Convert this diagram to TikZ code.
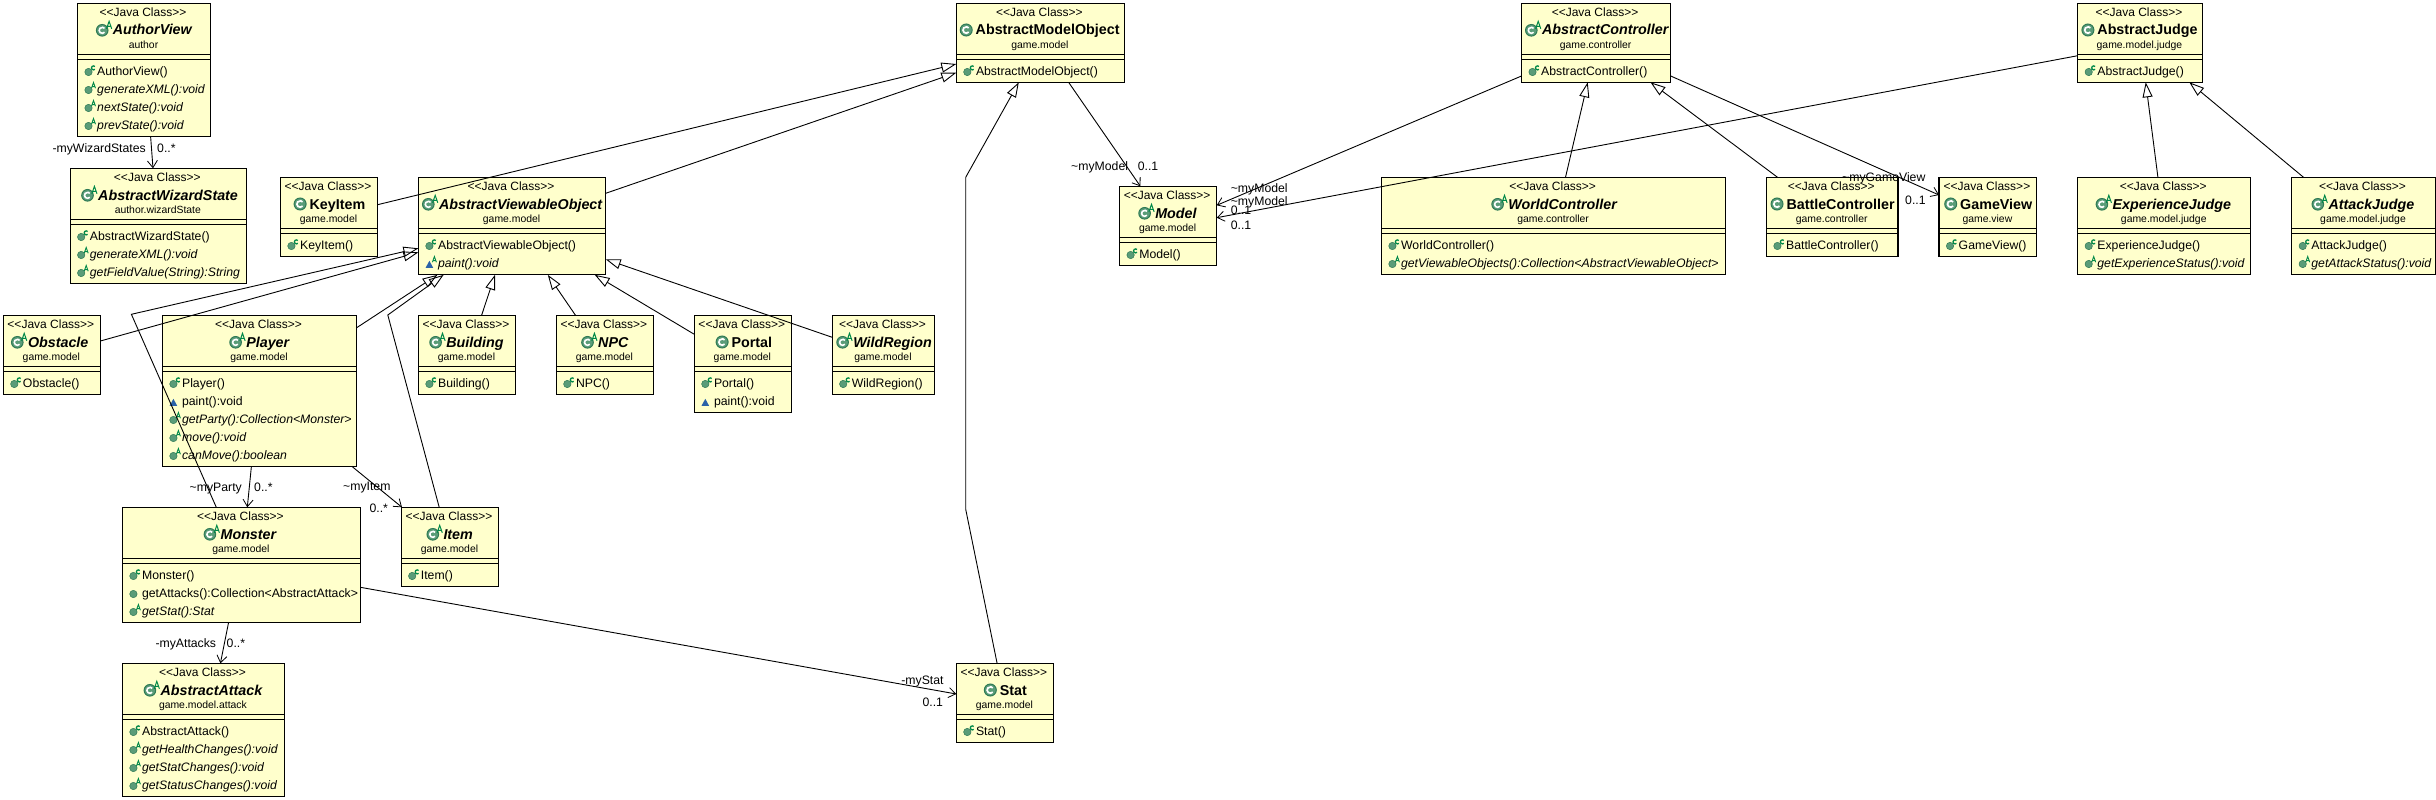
\documentclass[tikz,border=0pt]{standalone}
\usepackage{fontspec}
\setmainfont[Ligatures=NoCommon]{Liberation Sans}
\usetikzlibrary{arrows.meta}
\definecolor{boxfill}{HTML}{FFFFCC}
\definecolor{icongreen}{HTML}{5A9C78}
\definecolor{icondark}{HTML}{2F7A55}
\definecolor{markgreen}{HTML}{008848}
\definecolor{triblue}{HTML}{2B62A8}
\tikzset{
  x=1pt,y=-1pt,
  clsbox/.style={draw=black,fill=boxfill,line width=1.3pt,inner sep=0pt,outer sep=0pt,anchor=north west},
  sepline/.style={draw=black,line width=1.2pt},
  stereo/.style={inner sep=0pt,anchor=base,font=\fontsize{12}{14}\selectfont},
  titletext/.style={inner sep=0pt,anchor=base west,font=\fontsize{14.3}{16}\selectfont},
  pkgtext/.style={inner sep=0pt,anchor=base,font=\fontsize{10.4}{12}\selectfont},
  member/.style={inner sep=0pt,anchor=base west,font=\fontsize{12.25}{14}\selectfont},
  rolee/.style={inner sep=0pt,anchor=base east,font=\fontsize{12.25}{14}\selectfont},
  rolew/.style={inner sep=0pt,anchor=base west,font=\fontsize{12.25}{14}\selectfont},
  genarrow/.style={draw=black,line width=.9pt,-{Triangle[open,length=15pt,width=10pt]}},
  navarrow/.style={draw=black,line width=.9pt,-{Straight Barb[length=7pt,width=10pt,line width=.8pt]}},
}
\def\abskind{a}
% name x y w h titleoffset kind title package
\newcommand\cls[9]{%
  \node[clsbox,minimum width=#4pt,minimum height=#5pt] (#1) at (#2,#3) {};
  \node[stereo] (#1-s) at ([shift={(#4/2-1,13.4)}]#1.north west) {<{}<Java Class>{}>};
  \def\kindtmp{#7}%
  \ifx\kindtmp\abskind
    \node[titletext] (#1-t) at ([shift={(#6,31.7)}]#1.north west) {\bfseries\itshape #8};
    \begin{scope}[shift={(#1.north west)}]
      \fill[icongreen,draw=icondark,line width=1pt] (#6-10.5,27) circle[radius=5.8];
      \draw[white,line width=1.6pt] (#6-10.5,27) ++(40:3) arc[start angle=40,end angle=320,radius=3];
      \draw[markgreen,line width=1pt] (#6-6.2,25.5) -- (#6-3.6,18) -- (#6-1,25.5) (#6-5.2,23) -- (#6-2,23);
    \end{scope}
  \else
    \node[titletext] (#1-t) at ([shift={(#6,31.7)}]#1.north west) {\bfseries #8};
    \begin{scope}[shift={(#1.north west)}]
      \fill[icongreen,draw=icondark,line width=1pt] (#6-9.3,26.7) circle[radius=6];
      \draw[white,line width=1.7pt] (#6-9.3,26.7) ++(40:3.2) arc[start angle=40,end angle=320,radius=3.2];
    \end{scope}
  \fi
  \node[pkgtext] (#1-p) at ([shift={(#4/2-.5,45.4)}]#1.north west) {#9};
  \draw[sepline] ([yshift=-51pt]#1.north west) -- ([yshift=-51pt]#1.north east);
  \draw[sepline] ([yshift=-56pt]#1.north west) -- ([yshift=-56pt]#1.north east);
}
% member helpers: name, row (0-based), text
\newcommand\mcircle[2]{\begin{scope}[shift={(#1.north west)}]\pgfmathsetmacro\my{68.7+18*#2}\fill[icongreen,draw=icondark,line width=.5pt] (11,\my) circle[radius=3.7];\end{scope}}
\newcommand\mmarkc[2]{\begin{scope}[shift={(#1.north west)}]\pgfmathsetmacro\my{68.7+18*#2}\draw[markgreen,line width=1.3pt] (16,\my-4.1) ++(45:2) arc[start angle=45,end angle=315,radius=2];\end{scope}}
\newcommand\mmarka[2]{\begin{scope}[shift={(#1.north west)}]\pgfmathsetmacro\my{68.7+18*#2}\draw[markgreen,line width=.9pt] (14,\my-1.8) -- (16,\my-7.5) -- (18,\my-1.8) (14.8,\my-3.4) -- (17.2,\my-3.4);\end{scope}}
\newcommand\mtri[2]{\begin{scope}[shift={(#1.north west)}]\pgfmathsetmacro\my{68.7+18*#2}\fill[triblue] (7.2,\my+3.8) -- (14.8,\my+3.8) -- (11,\my-3.2) -- cycle;\end{scope}}
\newcommand\mtext[4]{\node[member] (#1-m#2) at ([shift={(19.5,72+18*#2)}]#1.north west) {#4#3};}
\newcommand\memc[3]{\mcircle{#1}{#2}\mmarkc{#1}{#2}\mtext{#1}{#2}{#3}{}}
\newcommand\mema[3]{\mcircle{#1}{#2}\mmarka{#1}{#2}\mtext{#1}{#2}{#3}{\itshape}}
\newcommand\memp[3]{\mcircle{#1}{#2}\mtext{#1}{#2}{#3}{}}
\newcommand\memt[3]{\mtri{#1}{#2}\mtext{#1}{#2}{#3}{}}
\newcommand\memta[3]{\mtri{#1}{#2}\mmarka{#1}{#2}\mtext{#1}{#2}{#3}{\itshape}}
\begin{document}
\begin{tikzpicture}
\useasboundingbox (0,0) rectangle (2436,800);
\fill[white] (0,0) rectangle (2436,800);
% classes
\cls{av}{77.5}{3.3}{133}{133}{35.2}{a}{AuthorView}{author}
\memc{av}{0}{AuthorView()}\mema{av}{1}{generateXML():void}\mema{av}{2}{nextState():void}\mema{av}{3}{prevState():void}
\cls{aws}{70.2}{168.3}{176.3}{115}{27.8}{a}{AbstractWizardState}{author.wizardState}
\memc{aws}{0}{AbstractWizardState()}\mema{aws}{1}{generateXML():void}\mema{aws}{2}{getFieldValue(String):String}
\cls{ki}{280.4}{177.3}{97.2}{79}{29}{c}{KeyItem}{game.model}
\memc{ki}{0}{KeyItem()}
\cls{avo}{418.4}{177.3}{187.3}{97}{20.4}{a}{AbstractViewableObject}{game.model}
\memc{avo}{0}{AbstractViewableObject()}\memta{avo}{1}{paint():void}
\cls{obs}{3.3}{315.3}{97.1}{79}{24.5}{a}{Obstacle}{game.model}
\memc{obs}{0}{Obstacle()}
\cls{pl}{162.4}{315.3}{194.3}{151}{83.7}{a}{Player}{game.model}
\memc{pl}{0}{Player()}\memt{pl}{1}{paint():void}\mema{pl}{2}{getParty():Collection<Monster>}\mema{pl}{3}{move():void}\mema{pl}{4}{canMove():boolean}
\cls{bld}{418.4}{315.3}{97.1}{79}{27.7}{a}{Building}{game.model}
\memc{bld}{0}{Building()}
\cls{npc}{556.3}{315.3}{97.2}{79}{41.7}{a}{NPC}{game.model}
\memc{npc}{0}{NPC()}
\cls{por}{694.3}{315.3}{97.1}{97}{37.1}{c}{Portal}{game.model}
\memc{por}{0}{Portal()}\memt{por}{1}{paint():void}
\cls{wr}{832.2}{315.3}{102.5}{79}{20.9}{a}{WildRegion}{game.model}
\memc{wr}{0}{WildRegion()}
\cls{mon}{122.4}{507.3}{238}{115}{98}{a}{Monster}{game.model}
\memc{mon}{0}{Monster()}\memp{mon}{1}{getAttacks():Collection<AbstractAttack>}\mema{mon}{2}{getStat():Stat}
\cls{itm}{401.2}{507.3}{97.6}{79}{42.1}{a}{Item}{game.model}
\memc{itm}{0}{Item()}
\cls{aa}{122.4}{663.3}{162.1}{133}{38}{a}{AbstractAttack}{game.model.attack}
\memc{aa}{0}{AbstractAttack()}\mema{aa}{1}{getHealthChanges():void}\mema{aa}{2}{getStatChanges():void}\mema{aa}{3}{getStatusChanges():void}
\cls{amo}{956.3}{3.3}{168.2}{79}{19.2}{c}{AbstractModelObject}{game.model}
\memc{amo}{0}{AbstractModelObject()}
\cls{mdl}{1119.6}{186.3}{97.1}{79}{35.5}{a}{Model}{game.model}
\memc{mdl}{0}{Model()}
\cls{st}{956.3}{663.3}{97.2}{79}{43.3}{c}{Stat}{game.model}
\memc{st}{0}{Stat()}
\cls{ac}{1521.5}{3.3}{149.2}{79}{20.3}{a}{AbstractController}{game.controller}
\memc{ac}{0}{AbstractController()}
\cls{wc}{1381.4}{177.3}{344.4}{97}{126.7}{a}{WorldController}{game.controller}
\memc{wc}{0}{WorldController()}\mema{wc}{1}{getViewableObjects():Collection<AbstractViewableObject>}
\cls{bc}{1766.4}{177.3}{131.6}{79}{19.9}{c}{BattleController}{game.controller}
\memc{bc}{0}{BattleController()}
\cls{gv}{1939}{177.3}{97.8}{79}{21}{c}{GameView}{game.view}
\memc{gv}{0}{GameView()}
\cls{aj}{2077.7}{3.3}{124.5}{79}{19.5}{c}{AbstractJudge}{game.model.judge}
\memc{aj}{0}{AbstractJudge()}
\cls{ej}{2077.7}{177.3}{173.1}{97}{34.7}{a}{ExperienceJudge}{game.model.judge}
\memc{ej}{0}{ExperienceJudge()}\mema{ej}{1}{getExperienceStatus():void}
\cls{atj}{2291.7}{177.3}{143.6}{97}{36.6}{a}{AttackJudge}{game.model.judge}
\memc{atj}{0}{AttackJudge()}\mema{atj}{1}{getAttackStatus():void}
% bend points
\coordinate (bendmon) at (131.4,314.3);
\coordinate (benditm) at (387.8,315);
\coordinate (bendst1) at (965.7,509.3);
\coordinate (bendst2) at (965.7,177.3);
% generalisations
\draw[genarrow] ([shift={(97.2,27.4)}]ki.north west) -- ([shift={(0,60.7)}]amo.north west);
\draw[genarrow] ([shift={(187.3,16)}]avo.north west) -- ([shift={(0,69.4)}]amo.north west);
\draw[genarrow] ([shift={(97.1,25.7)}]obs.north west) -- ([shift={(0,75)}]avo.north west);
\draw[genarrow] ([shift={(93.9,0)}]mon.north west) -- (bendmon) -- ([shift={(0,71)}]avo.north west);
\draw[genarrow] ([shift={(194.3,12.4)}]pl.north west) -- ([shift={(19.1,97.5)}]avo.north west);
\draw[genarrow] ([shift={(38,0)}]itm.north west) -- (benditm) -- ([shift={(25.3,97.5)}]avo.north west);
\draw[genarrow] ([shift={(63.2,0)}]bld.north west) -- ([shift={(76.6,97.5)}]avo.north west);
\draw[genarrow] ([shift={(19.2,0)}]npc.north west) -- ([shift={(129.4,97.5)}]avo.north west);
\draw[genarrow] ([shift={(0,19)}]por.north west) -- ([shift={(176.3,97.5)}]avo.north west);
\draw[genarrow] ([shift={(0,22)}]wr.north west) -- ([shift={(187.3,82)}]avo.north west);
\draw[genarrow] ([shift={(40.8,0)}]st.north west) -- (bendst1) -- (bendst2) -- ([shift={(62.5,79)}]amo.north west);
\draw[genarrow] ([shift={(184.1,0)}]wc.north west) -- ([shift={(66.2,79)}]ac.north west);
\draw[genarrow] ([shift={(11.1,0)}]bc.north west) -- ([shift={(129,79)}]ac.north west);
\draw[genarrow] ([shift={(80.2,0)}]ej.north west) -- ([shift={(68,79)}]aj.north west);
\draw[genarrow] ([shift={(11.8,0)}]atj.north west) -- ([shift={(111.6,79)}]aj.north west);
% associations
\draw[navarrow] ([shift={(73.1,133)}]av.north west) -- ([shift={(82.8,0)}]aws.north west);
\draw[navarrow] ([shift={(89,151)}]pl.north west) -- ([shift={(124.9,0)}]mon.north west);
\draw[navarrow] ([shift={(189.4,151)}]pl.north west) -- ([shift={(0.8,0)}]itm.north west);
\draw[navarrow] ([shift={(106.2,115)}]mon.north west) -- ([shift={(98,0)}]aa.north west);
\draw[navarrow] ([shift={(238,80)}]mon.north west) -- ([shift={(0,30.7)}]st.north west);
\draw[navarrow] ([shift={(112.3,79)}]amo.north west) -- ([shift={(20.8,0)}]mdl.north west);
\draw[navarrow] ([shift={(0,72.7)}]ac.north west) -- ([shift={(97.1,19)}]mdl.north west);
\draw[navarrow] ([shift={(0,52.4)}]aj.north west) -- ([shift={(97.1,31.4)}]mdl.north west);
\draw[navarrow] ([shift={(149.2,72.7)}]ac.north west) -- ([shift={(0,17.7)}]gv.north west);
% role labels
\node[rolee] (l1) at (146,152) {-myWizardStates};
\node[rolew] (l2) at (157,152) {0..*};
\node[rolee] (l3) at (242,491) {\textasciitilde myParty};
\node[rolew] (l4) at (254,491) {0..*};
\node[rolew] (l5) at (343,490) {\textasciitilde myItem};
\node[rolew] (l6) at (369.4,512.7) {0..*};
\node[rolee] (l7) at (216.3,647.5) {-myAttacks};
\node[rolew] (l8) at (226.5,647.7) {0..*};
\node[rolew] (l9) at (901.2,684) {-myStat};
\node[rolew] (l10) at (922.4,706.7) {0..1};
\node[rolew] (l11) at (1071,170) {\textasciitilde myModel};
\node[rolew] (l12) at (1137.6,170.7) {0..1};
\node[rolew] (l13) at (1230.6,192) {\textasciitilde myModel};
\node[rolew] (l14) at (1230.6,205.7) {\textasciitilde myModel};
\node[rolew] (l15) at (1230.6,214.7) {0..1};
\node[rolew] (l16) at (1230.6,229) {0..1};
\node[rolew] (l17) at (1842,181.7) {\textasciitilde myGameView};
\node[rolew] (l18) at (1905,204.7) {0..1};
\end{tikzpicture}
\end{document}
